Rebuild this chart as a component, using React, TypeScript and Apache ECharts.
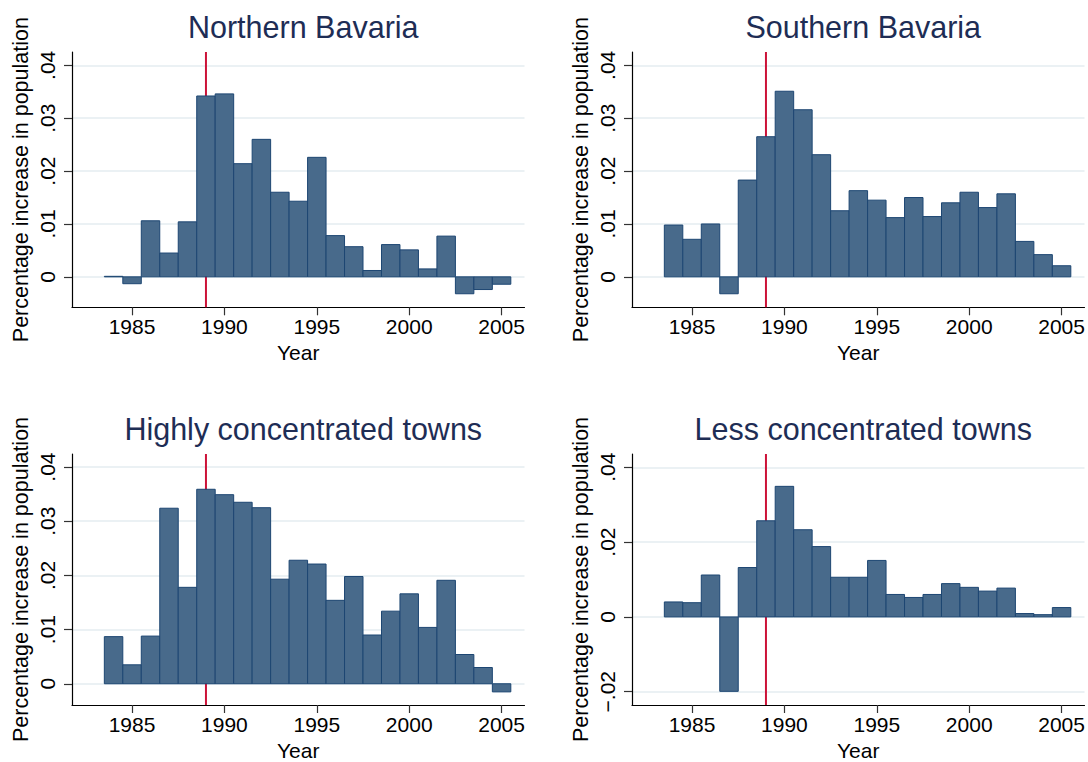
import React, { useEffect, useRef } from "react";
import * as echarts from "echarts";

const years = [1984, 1985, 1986, 1987, 1988, 1989, 1990, 1991, 1992, 1993, 1994, 1995, 1996, 1997, 1998, 1999, 2000, 2001, 2002, 2003, 2004, 2005];

const northernBavaria = [0.0001, -0.0013, 0.0106, 0.0045, 0.0104, 0.0342, 0.0346, 0.0214, 0.0260, 0.0160, 0.0143, 0.0226, 0.0078, 0.0057, 0.0012, 0.0061, 0.0051, 0.0015, 0.0077, -0.0032, -0.0024, -0.0014];
const southernBavaria = [0.0098, 0.0071, 0.0100, -0.0032, 0.0183, 0.0265, 0.0351, 0.0316, 0.0231, 0.0125, 0.0163, 0.0145, 0.0112, 0.0150, 0.0114, 0.0140, 0.0160, 0.0131, 0.0157, 0.0067, 0.0042, 0.0021];
const highlyConcentrated = [0.0087, 0.0035, 0.0088, 0.0324, 0.0178, 0.0359, 0.0349, 0.0335, 0.0325, 0.0193, 0.0228, 0.0221, 0.0154, 0.0198, 0.0090, 0.0134, 0.0166, 0.0104, 0.0191, 0.0054, 0.0030, -0.0015];
const lessConcentrated = [0.0040, 0.0038, 0.0112, -0.0199, 0.0132, 0.0257, 0.0349, 0.0233, 0.0188, 0.0106, 0.0106, 0.0151, 0.0060, 0.0052, 0.0060, 0.0089, 0.0079, 0.0069, 0.0077, 0.0009, 0.0006, 0.0025];

const panelTitles = ["Northern Bavaria", "Southern Bavaria", "Highly concentrated towns", "Less concentrated towns"];
const xTicks = [1985, 1990, 1995, 2000, 2005];
const yTicksA = [0, 0.01, 0.02, 0.03, 0.04];
const yTicksB = [-0.02, 0, 0.02, 0.04];
const reformYear = 1989;

const panels = [
  { title: panelTitles[0], data: northernBavaria, ticks: yTicksA, ymin: -0.00576, ymax: 0.04252, left: 72, top: 52 },
  { title: panelTitles[1], data: southernBavaria, ticks: yTicksA, ymin: -0.00576, ymax: 0.04252, left: 632, top: 52 },
  { title: panelTitles[2], data: highlyConcentrated, ticks: yTicksA, ymin: -0.00392, ymax: 0.04241, left: 72, top: 454 },
  { title: panelTitles[3], data: lessConcentrated, ticks: yTicksB, ymin: -0.02355, ymax: 0.04355, left: 632, top: 454 },
];

const PW = 452.5;
const PH = 255.3;
const FONT = "Liberation Sans, Arial, Helvetica, sans-serif";

function fmtY(v: number): string {
  if (Math.abs(v) < 1e-9) return "0";
  const s = Math.abs(v).toFixed(2).replace(/^0/, "");
  return (v < 0 ? "\u2212" : "") + s;
}

export default function App() {
  const ref = useRef<HTMLDivElement>(null);
  useEffect(() => {
    document.body.style.margin = "0";
    if (!ref.current) return;
    const chart = echarts.init(ref.current, null, { renderer: "svg" });
    const grids: any[] = [];
    const xAxes: any[] = [];
    const yAxes: any[] = [];
    const series: any[] = [];
    const titles: any[] = [];
    panels.forEach((p, i) => {
      grids.push({ left: p.left, top: p.top, width: PW, height: PH, containLabel: false });
      titles.push({
        text: p.title,
        left: p.left + PW / 2,
        top: p.top - 46,
        textAlign: "center",
        textStyle: { fontFamily: FONT, fontSize: 30.5, fontWeight: "normal", color: "#1e2d55" },
      });
      xAxes.push({
        type: "value",
        gridIndex: i,
        min: 1981.75,
        max: 2006.24,
        name: "Year",
        nameLocation: "middle",
        nameGap: 35,
        nameTextStyle: { fontFamily: FONT, fontSize: 21, color: "#000" },
        axisLine: { show: true, onZero: false, lineStyle: { color: "#000", width: 1.2 } },
        axisTick: { show: true, length: 8, customValues: xTicks, lineStyle: { color: "#333", width: 1.2 } },
        axisLabel: { customValues: xTicks, fontFamily: FONT, fontSize: 21, color: "#000", margin: 9, formatter: (v: number) => String(v) },
        splitLine: { show: false },
      });
      yAxes.push({
        type: "value",
        gridIndex: i,
        min: p.ymin,
        max: p.ymax,
        name: "Percentage increase in population",
        nameLocation: "middle",
        nameGap: 40,
        nameRotate: 90,
        nameTextStyle: { fontFamily: FONT, fontSize: 21.5, color: "#000" },
        axisLine: { show: true, onZero: false, lineStyle: { color: "#000", width: 1.2 } },
        axisTick: { show: true, length: 8, customValues: p.ticks, lineStyle: { color: "#333", width: 1.2 } },
        axisLabel: { customValues: p.ticks, rotate: 90, fontFamily: FONT, fontSize: 21, color: "#000", margin: 14, formatter: fmtY },
        splitLine: { show: true, lineStyle: { color: "#e4edf0", width: 1.5 } },
      });
      series.push({
        type: "custom",
        xAxisIndex: i,
        yAxisIndex: i,
        z: 1,
        silent: true,
        data: [[reformYear]],
        encode: { x: 0 },
        renderItem: (params: any, api: any) => {
          const x = api.coord([api.value(0), 0])[0];
          const cs = params.coordSys;
          return {
            type: "line",
            shape: { x1: x, y1: cs.y, x2: x, y2: cs.y + cs.height },
            style: { stroke: "#cc1238", lineWidth: 2 },
          };
        },
      });
      series.push({
        type: "custom",
        xAxisIndex: i,
        yAxisIndex: i,
        z: 2,
        silent: true,
        data: years.map((y, k) => [y, p.data[k]]),
        encode: { x: 0, y: 1 },
        renderItem: (params: any, api: any) => {
          const yr = api.value(0);
          const v = api.value(1);
          const a = api.coord([yr - 0.5, v]);
          const b = api.coord([yr + 0.5, 0]);
          return {
            type: "rect",
            shape: { x: a[0], y: Math.min(a[1], b[1]), width: b[0] - a[0], height: Math.abs(b[1] - a[1]) },
            style: { fill: "#486a8b", stroke: "#1d4672", lineWidth: 1 },
          };
        },
      });
    });
    chart.setOption({
      animation: false,
      backgroundColor: "#fff",
      title: titles,
      grid: grids,
      xAxis: xAxes,
      yAxis: yAxes,
      series,
    });
    return () => chart.dispose();
  }, []);
  return <div ref={ref} style={{ width: 1088, height: 762 }} />;
}
